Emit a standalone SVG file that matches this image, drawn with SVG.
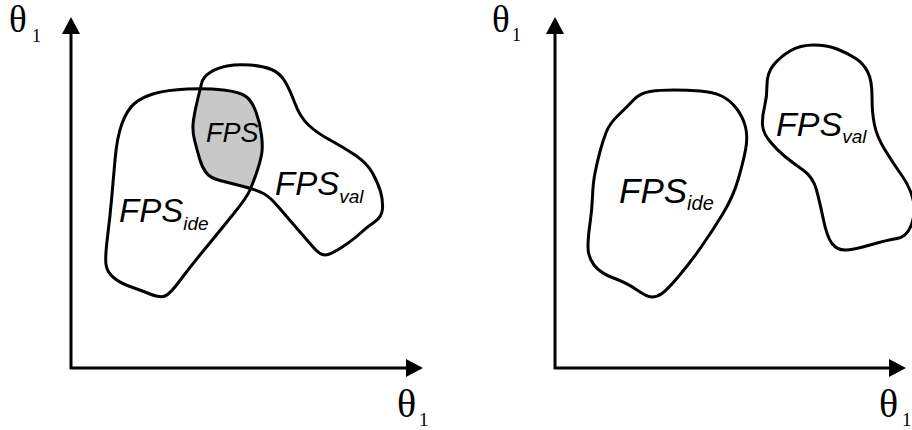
<svg xmlns="http://www.w3.org/2000/svg" width="912" height="430" viewBox="0 0 912 430">
<style>
.shape{fill:none;stroke:#000;stroke-width:3;stroke-linejoin:round}
.axis{fill:none;stroke:#000;stroke-width:3}
.lbl{font-family:"Liberation Sans",Arial,sans-serif;font-style:italic;fill:#000}
.th{font-family:"Liberation Serif","Times New Roman",serif;fill:#000}
</style>
<defs>
<marker id="arr" markerUnits="userSpaceOnUse" markerWidth="17" markerHeight="18" viewBox="0 0 17 18" refX="0" refY="9" orient="auto">
<path d="M0,0 L17,9 L0,18 Z" fill="#000"/>
</marker>
<path id="ideL" d="M154.5,93.5 Q167,90 187,89 Q207,88 223.5,90 Q240,92 246,96.5 Q252,101 256,112 Q260,123 261.5,135 Q263,147 261.5,155 Q260,163 256.5,173 Q253,183 250,190 Q247,197 235,212 Q223,227 206.5,247 Q190,267 180,280.5 Q170,294 165,296 Q160,298 150,294 Q140,290 130,286.5 Q120,283 113.5,277.5 Q107,272 106,264.5 Q105,257 107.5,237 Q110,217 111.5,200 Q113,183 115,160 Q117,137 122,123.5 Q127,110 134.5,103.5 Q142,97 154.5,93.5 Z"/>
<path id="valL" d="M201.5,83.5 Q203,77 210,72.5 Q217,68 227,66 Q237,64 250,65 Q263,66 271.5,69.5 Q280,73 285,81.5 Q290,90 295,103.5 Q300,117 308.5,125 Q317,133 330,140 Q343,147 355,155 Q367,163 372.5,173 Q378,183 380.5,191.5 Q383,200 382.5,208.5 Q382,217 374.5,222 Q367,227 360,233.5 Q353,240 341.5,247.5 Q330,255 325,255 Q320,255 313.5,247.5 Q307,240 297,228.5 Q287,217 278.5,207 Q270,197 263.5,193.5 Q257,190 243.5,186.5 Q230,183 220,180.5 Q210,178 206,172.5 Q202,167 199.5,158.5 Q197,150 194.5,140 Q192,130 193.5,120 Q195,110 197.5,100 Q200,90 201.5,83.5 Z"/>
<clipPath id="clipIde"><use href="#ideL"/></clipPath>
</defs>
<rect width="912" height="430" fill="#fff"/>
<g id="connectors">
<line class="axis" x1="71" y1="369" x2="71" y2="34" marker-end="url(#arr)"/>
<line class="axis" x1="70" y1="368" x2="406" y2="368" marker-end="url(#arr)"/>
<line class="axis" x1="555" y1="369" x2="555" y2="34" marker-end="url(#arr)"/>
<line class="axis" x1="554" y1="368" x2="889" y2="368" marker-end="url(#arr)"/>
</g>
<g id="axis-labels">
<text class="th" x="9" y="32" font-size="37">θ</text><text class="th" x="32" y="42" font-size="18">1</text>
<text class="th" x="492" y="32" font-size="37">θ</text><text class="th" x="512" y="41" font-size="18">1</text>
<text class="th" x="397" y="417" font-size="40">θ</text><text class="th" x="419" y="426" font-size="19">1</text>
<text class="th" x="879" y="417" font-size="40">θ</text><text class="th" x="902" y="426" font-size="19">1</text>
</g>
<g id="fps-intersection">
<use href="#valL" fill="#c8c8c8" clip-path="url(#clipIde)"/>
<text class="lbl" x="206" y="142" font-size="27">FPS</text>
</g>
<g id="fps-ide-left">
<use href="#ideL" class="shape"/>
<text class="lbl" x="119" y="222" font-size="33">FPS<tspan font-size="19" dy="8">ide</tspan></text>
</g>
<g id="fps-val-left">
<use href="#valL" class="shape"/>
<text class="lbl" x="275" y="195" font-size="33">FPS<tspan font-size="19" dy="8">val</tspan></text>
</g>
<g id="fps-ide-right">
<path class="shape" d="M673.5,90 Q660,90 650,91.5 Q640,93 633.5,100 Q627,107 618.5,115 Q610,123 606.5,131.5 Q603,140 600,151.5 Q597,163 595,173 Q593,183 592.5,196.5 Q592,210 590,223.5 Q588,237 588,247 Q588,257 594,265 Q600,273 613.5,278 Q627,283 637,290 Q647,297 652,297 Q657,297 662,293.5 Q667,290 678.5,276.5 Q690,263 701.5,246.5 Q713,230 723,213.5 Q733,197 738,180 Q743,163 745.5,150 Q748,137 745.5,127 Q743,117 736.5,108.5 Q730,100 721.5,96 Q713,92 700,91 Q687,90 673.5,90 Z"/>
<text class="lbl" x="619" y="203" font-size="35">FPS<tspan font-size="20" dy="7">ide</tspan></text>
</g>
<g id="fps-val-right">
<path class="shape" d="M767,85 Q767,73 773.5,65 Q780,57 790,51 Q800,45 813.5,45 Q827,45 837,49 Q847,53 855,58 Q863,63 867.5,71.5 Q872,80 872,96.5 Q872,113 874.5,125 Q877,137 885,150 Q893,163 901.5,175 Q910,187 913,199.5 Q916,212 911.5,224.5 Q907,237 897,238.5 Q887,240 870,245 Q853,250 845,250 Q837,250 832,243.5 Q827,237 823.5,220 Q820,203 816.5,190 Q813,177 803,170 Q793,163 785,156.5 Q777,150 770,141.5 Q763,133 762.5,125 Q762,117 764.5,107 Q767,97 767,85 Z"/>
<text class="lbl" x="776" y="136" font-size="34">FPS<tspan font-size="19" dy="7">val</tspan></text>
</g>
</svg>
